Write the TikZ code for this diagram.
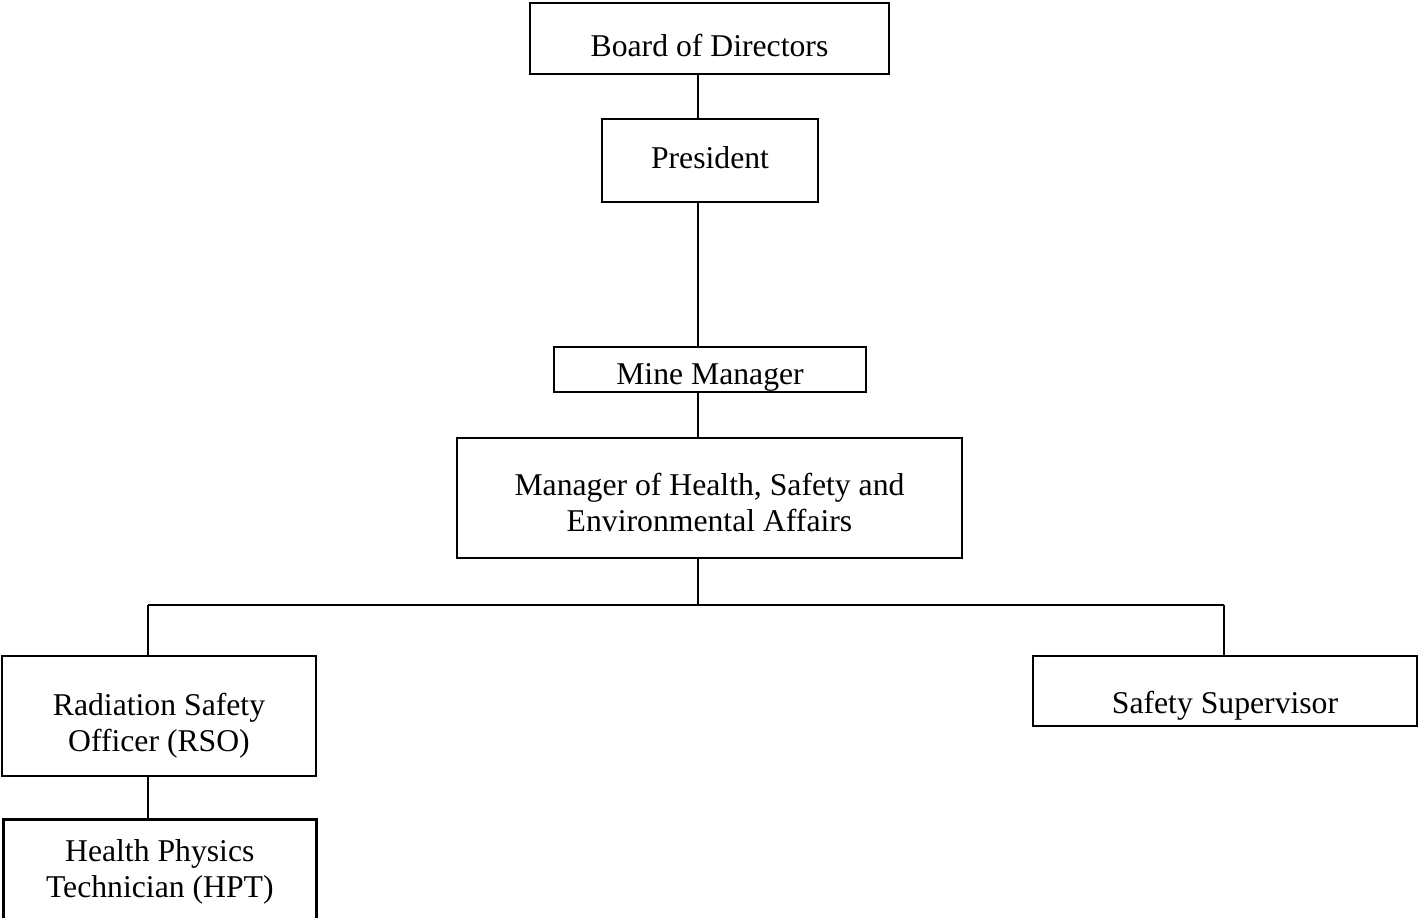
\documentclass[tikz,border=0pt]{standalone}
\usepackage{fontspec}
\setmainfont{Liberation Serif}
\newcommand{\lowr}[2]{\raisebox{#1}[\height][\depth]{#2}}
\begin{document}
\begin{tikzpicture}[x=1pt,y=-1pt,
  box/.style={draw=black, line width=2.6pt, fill=white, inner sep=0pt, align=center,
    font=\fontsize{31.7}{36}\selectfont},
  conn/.style={draw=black, line width=2.6pt}]
\clip (0,0) rectangle (1419,918);
\fill[white] (0,0) rectangle (1419,918);
\node[box, minimum width=359pt, minimum height=71pt] (board) at (709.5,38.5) {\lowr{-7pt}{Board of Directors}};
\node[box, minimum width=216pt, minimum height=83pt] (pres) at (710,160.5) {\lowr{3pt}{President}};
\node[box, minimum width=312pt, minimum height=45pt] (mine) at (710,369.5) {\lowr{-8pt}{Mine Manager}};
\node[box, minimum width=505pt, minimum height=120pt] (hse) at (709.5,498) {\lowr{-4pt}{Manager of Health, Safety and}\\\lowr{-4pt}{Environmental Affairs}};
\node[box, minimum width=314pt, minimum height=120pt] (rso) at (159,716) {\lowr{-10pt}{Radiation Safety}\\\lowr{-10pt}{Officer (RSO)}};
\node[box, minimum width=384pt, minimum height=70pt] (ss) at (1225,691) {\lowr{-15pt}{Safety Supervisor}};
\node[box, minimum width=313pt, minimum height=112pt, anchor=north west] (hpt) at (2,818) {\lowr{3pt}{Health Physics}\\\lowr{3pt}{Technician (HPT)}};
\coordinate (j) at (698,605);
\coordinate (jl) at (148,605);
\coordinate (jr) at (1224,605);
\draw[conn] (698,74) -- (698,119);
\draw[conn] (698,202) -- (698,347);
\draw[conn] (698,392) -- (698,438);
\draw[conn] (698,558) -- (j);
\draw[conn] (jl) -- (jr);
\draw[conn] (jl) -- (148,656);
\draw[conn] (jr) -- (1224,656);
\draw[conn] (148,776) -- (148,818);
\end{tikzpicture}
\end{document}
